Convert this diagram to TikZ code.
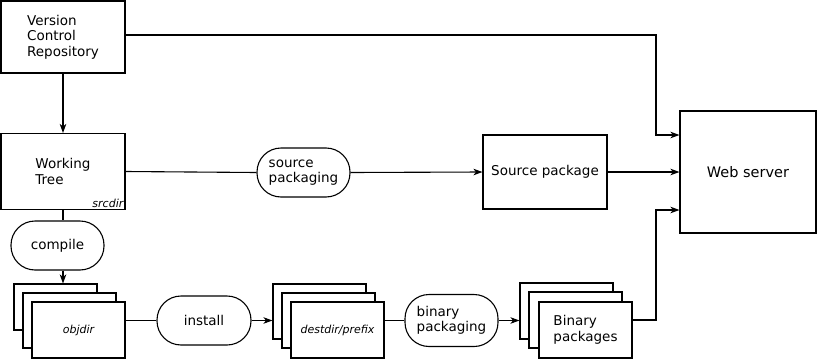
\documentclass[tikz,border=0pt]{standalone}
\usepackage{fontspec}
\setmainfont{DejaVu Sans}
\usetikzlibrary{arrows.meta}

\newcommand{\txt}{\fontsize{13.5}{15.5}\selectfont}
\newcommand{\smalltxt}{\fontsize{11}{13}\selectfont\itshape}

\tikzset{
  box/.style={rectangle,draw=black,fill=white,line width=1.1pt,align=left,font=\txt,inner sep=2pt},
  proc/.style={rectangle,rounded corners=24pt,draw=black,fill=white,line width=1.1pt,align=left,font=\txt,minimum width=93pt,minimum height=49pt},
  link/.style={line width=1.1pt},
  arr/.style={line width=1.1pt,-{Stealth[length=9pt,width=6.5pt,inset=2.5pt]}}
}

\begin{document}
\begin{tikzpicture}[x=1pt,y=-1pt]
\useasboundingbox (0,0) rectangle (817,359);

\node (vcr)[box,minimum width=124pt,minimum height=72pt] at (63,37) {Version\\Control\\Repository};
\node (wt)[box,minimum width=124pt,minimum height=76pt] at (63,171.5) {Working\\Tree};
\node (srcdir)[anchor=south east,font=\smalltxt,inner sep=2pt] at (wt.south east) {srcdir};

\node (compile)[proc,minimum width=93pt] at (57.5,245.5) {compile};

% objdir stack
\node (objB)[box,minimum width=83pt,minimum height=46pt] at (55.5,307) {};
\node (objM)[box,minimum width=93pt,minimum height=55pt] at (69.5,320.5) {};
\node (objF)[box,minimum width=93pt,minimum height=56pt,font=\smalltxt] at (78.5,330) {objdir};

\node (install)[proc,minimum width=94pt] at (204,320.5) {install};

% destdir stack
\node (destB)[box,minimum width=93pt,minimum height=55pt] at (319.5,311.5) {};
\node (destM)[box,minimum width=93pt,minimum height=55pt] at (328.5,320.5) {};
\node (destF)[box,minimum width=93pt,minimum height=56pt,font=\smalltxt] at (337.5,330) {destdir/prefix};

\node (binpk)[proc,minimum height=52pt] at (451.5,320.5) {binary\\packaging};

% binary packages stack
\node (binB)[box,minimum width=93pt,minimum height=56pt] at (566.5,311) {};
\node (binM)[box,minimum width=93pt,minimum height=56pt] at (575.5,320) {};
\node (binF)[box,minimum width=93pt,minimum height=56pt] at (585.5,330) {Binary\\packages};

\node (srcpk)[proc] at (303.5,172.5) {source\\packaging};
\node (srcbox)[box,minimum width=124pt,minimum height=74pt] at (545,172) {Source package};

\node (web)[box,minimum width=136pt,minimum height=122pt,font=\fontsize{14.5}{17}\selectfont] at (748,172) {Web server};

\coordinate (jtop) at (656,135);
\coordinate (jbot) at (656,210);

% connectors
\draw[arr] (vcr.south) -- (wt.north);
\draw[arr] (vcr.east |- 0,35) -| (jtop) -- (web.west |- jtop);

\draw[link] (wt.east) -- (srcpk.west);
\draw[arr] (srcpk.east) -- (srcbox.west);
\draw[arr] (srcbox.east) -- (web.west);

\draw[link] (wt.south) -- (wt.south |- compile.north);
\draw[arr] (wt.south |- compile.south) -- (wt.south |- objB.north);

\draw[link] (objF.east |- objM) -- (install.west |- objM);
\draw[arr] (install.east |- objM) -- (destB.west |- objM);
\draw[link] (destF.east |- destM) -- (binpk.west |- destM);
\draw[arr] (binpk.east |- destM) -- (binB.west |- destM);
\draw[arr] (binF.east |- binM) -| (jbot) -- (web.west |- jbot);
\end{tikzpicture}
\end{document}
